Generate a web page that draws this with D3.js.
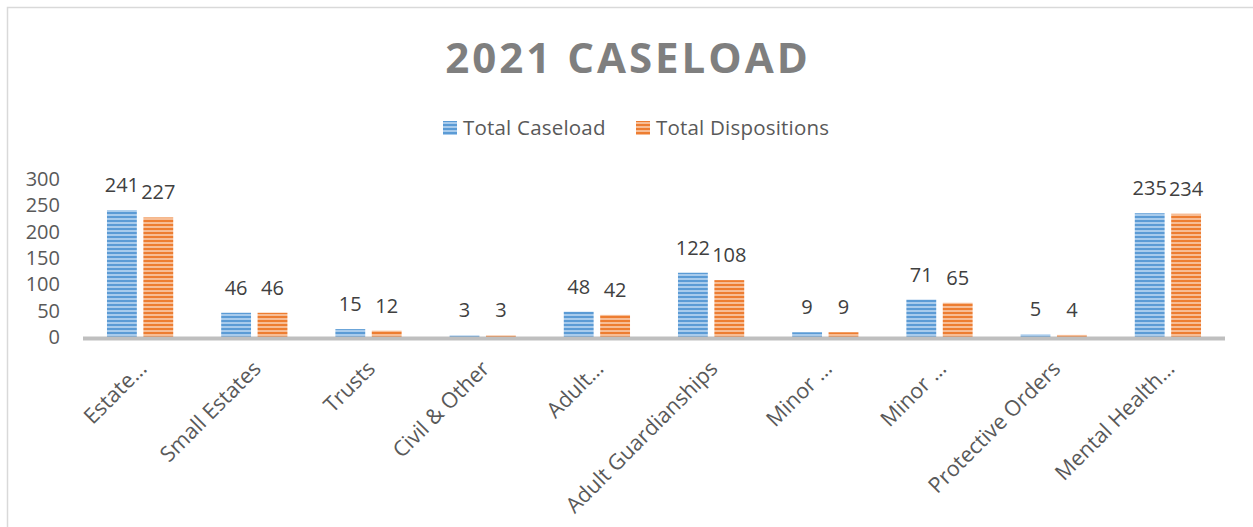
<!DOCTYPE html>
<html>
<head>
<meta charset="utf-8">
<script src="https://cdn.jsdelivr.net/npm/d3@7"></script>
<style>
  html, body { margin: 0; padding: 0; background: #fff; }
  svg { display: block; font-family: 'Open Sans', sans-serif; }
</style>
</head>
<body>
<script>
// Data
const categories = ['Estate…', 'Small Estates', 'Trusts', 'Civil & Other', 'Adult…', 'Adult Guardianships', 'Minor …', 'Minor …', 'Protective Orders', 'Mental Health…']
const seriesNames = ['Total Caseload', 'Total Dispositions']
const totalCaseload = [241, 46, 15, 3, 48, 122, 9, 71, 5, 235]
const totalDispositions = [227, 46, 12, 3, 42, 108, 9, 65, 4, 234]
const yTicks = [0, 50, 100, 150, 200, 250, 300]

const seriesValues = [totalCaseload, totalDispositions]
const colors = [
  { dark: '#5b9bd5', light: '#a8cbec' },
  { dark: '#ed7d31', light: '#f7bd95' }
]

const width = 1253
const height = 527
const margins = { top: 179, right: 28, bottom: 191, left: 83 }

const svg = d3.select('body').append('svg')
  .attr('width', width)
  .attr('height', height)

// stripe patterns
const defs = svg.append('defs')
colors.forEach((c, i) => {
  const p = defs.append('pattern')
    .attr('id', 'stripe' + i)
    .attr('patternUnits', 'userSpaceOnUse')
    .attr('width', 8)
    .attr('height', 4)
  p.append('rect').attr('width', 8).attr('height', 4).attr('fill', c.light)
  p.append('rect').attr('y', 0).attr('width', 8).attr('height', 2).attr('fill', c.dark)
})

// frame
svg.append('rect')
  .attr('x', 7.5).attr('y', 7.5)
  .attr('width', width + 20).attr('height', height + 20)
  .attr('fill', 'none')
  .attr('stroke', '#d9d9d9')
  .attr('stroke-width', 1.5)

// title
svg.append('text')
  .attr('x', 628)
  .attr('y', 73)
  .attr('text-anchor', 'middle')
  .attr('fill', '#7f7f7f')
  .style('font-size', '42px')
  .style('font-weight', 'bold')
  .style('letter-spacing', '3px')
  .text('2021 CASELOAD')

// scales
const x0 = d3.scaleBand()
  .domain(d3.range(categories.length))
  .range([margins.left, width - margins.right])
  .paddingInner(0.42)
  .paddingOuter(0.21)

const x1 = d3.scaleBand()
  .domain(d3.range(seriesNames.length))
  .range([0, x0.bandwidth()])
  .paddingInner(0.18)

const y = d3.scaleLinear()
  .domain([0, 300])
  .range([height - margins.bottom + 1, margins.top])

// y axis labels
svg.append('g')
  .attr('transform', `translate(60, 0)`)
  .call(d3.axisLeft(y).tickValues(yTicks).tickSize(0).tickPadding(0))
  .call(g => g.select('.domain').remove())
  .call(g => g.selectAll('text')
    .attr('fill', '#595959')
    .style('font-size', '20px')
    .style('font-family', "'Open Sans', sans-serif"))

// bars
const groups = svg.append('g')
  .selectAll('g')
  .data(categories.map((c, i) => i))
  .join('g')
  .attr('transform', i => `translate(${x0(i)}, 0)`)

groups.selectAll('rect')
  .data(i => seriesValues.map((vals, s) => ({ s, v: vals[i] })))
  .join('rect')
  .attr('x', d => x1(d.s))
  .attr('y', d => y(d.v))
  .attr('width', x1.bandwidth())
  .attr('height', d => y(0) - y(d.v))
  .attr('fill', d => `url(#stripe${d.s})`)

// data labels
groups.selectAll('text')
  .data(i => seriesValues.map((vals, s) => ({ s, v: vals[i] })))
  .join('text')
  .attr('x', d => x1(d.s) + x1.bandwidth() / 2)
  .attr('y', d => y(d.v) - 18)
  .attr('text-anchor', 'middle')
  .attr('fill', '#404040')
  .style('font-size', '20px')
  .text(d => d.v)

// x axis line
svg.append('line')
  .attr('x1', margins.left)
  .attr('x2', width - margins.right)
  .attr('y1', y(0) + 1.5)
  .attr('y2', y(0) + 1.5)
  .attr('stroke', '#bfbfbf')
  .attr('stroke-width', 4)

// x labels
svg.append('g')
  .selectAll('text')
  .data(categories)
  .join('text')
  .attr('transform', (d, i) => `translate(${x0(i) + x0.bandwidth() / 2 + 8}, 370) rotate(-45)`)
  .attr('text-anchor', 'end')
  .attr('fill', '#595959')
  .style('font-size', '21.5px')
  .text(d => d)

// legend
const legendItems = [
  { x: 443, label: seriesNames[0] },
  { x: 636, label: seriesNames[1] }
]
const legend = svg.append('g')
legendItems.forEach((item, i) => {
  legend.append('rect')
    .attr('x', item.x).attr('y', 121)
    .attr('width', 14).attr('height', 14)
    .attr('fill', `url(#stripe${i})`)
  legend.append('text')
    .attr('x', item.x + 20)
    .attr('y', 135)
    .attr('fill', '#595959')
    .style('font-size', '20.5px')
    .style('letter-spacing', '0.2px')
    .text(item.label)
})
</script>
</body>
</html>
